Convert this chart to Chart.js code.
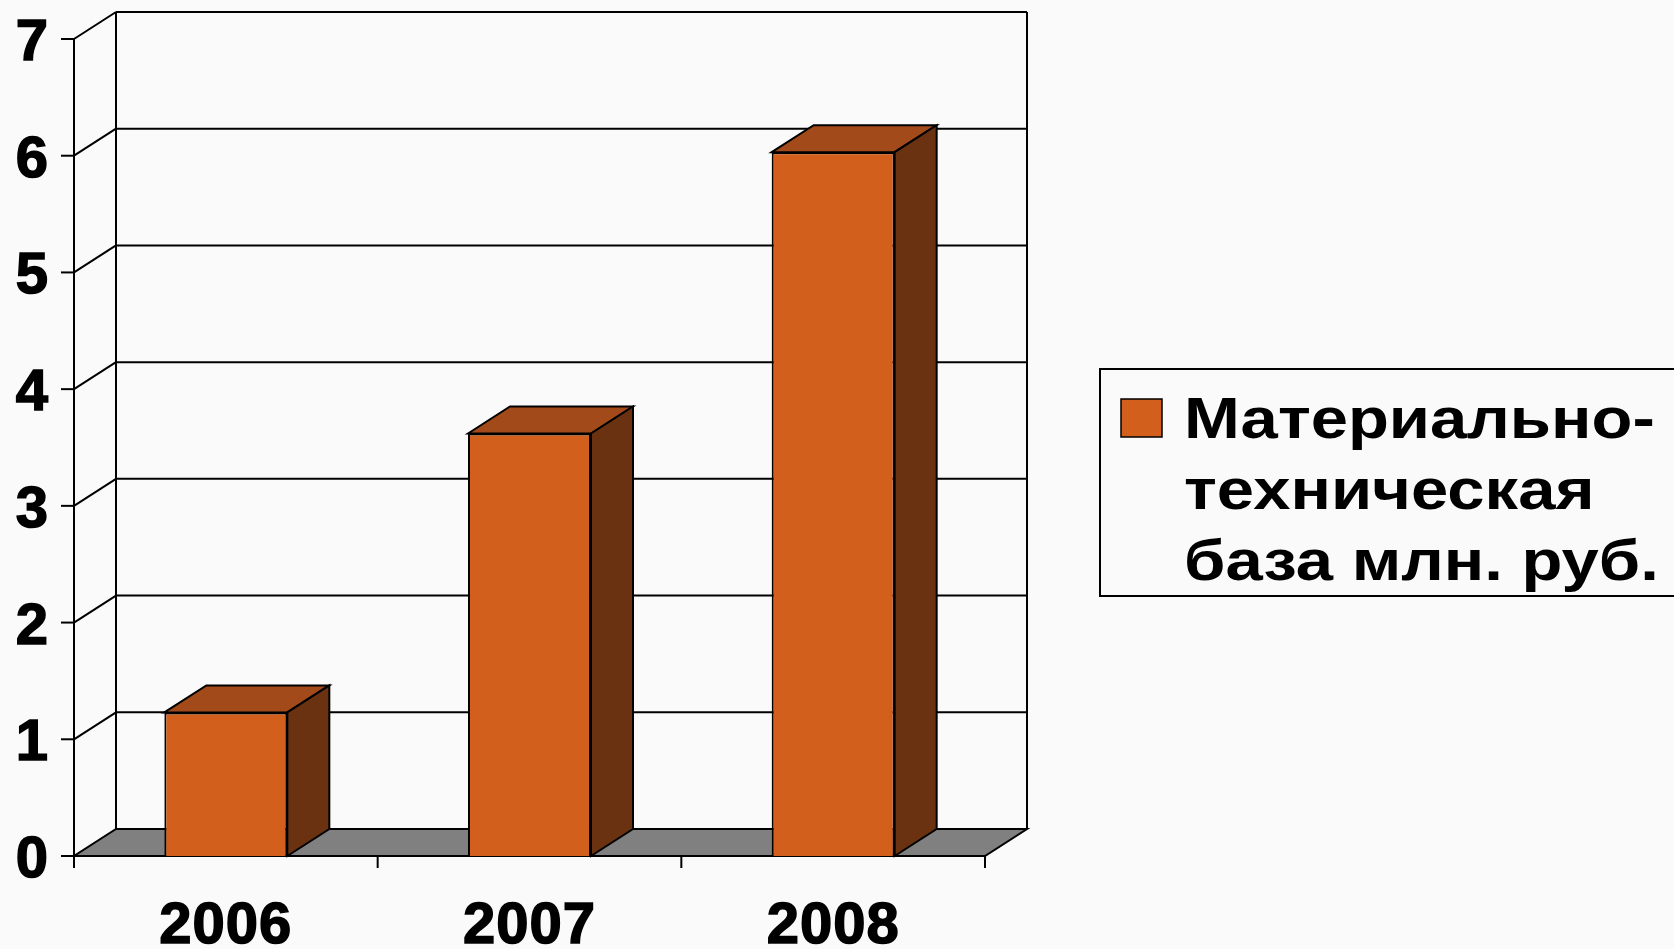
<!DOCTYPE html>
<html>
<head>
<meta charset="utf-8">
<script src="https://cdn.jsdelivr.net/npm/chart.js@4/dist/chart.umd.min.js"></script>
<style>
html,body{margin:0;padding:0;background:#fafafa;}
#wrap{width:1674px;height:949px;position:relative;overflow:hidden;}
canvas{display:block;}
</style>
</head>
<body>
<div id="wrap"><canvas id="c" width="1674" height="949"></canvas></div>
<script>
// ---- data ----
const categories = ['2006', '2007', '2008'];
const seriesLabel = 'Материально-техническая база млн. руб.';
const legendLines = ['Материально-', 'техническая', 'база млн. руб.'];
const seriesValues = [1.23, 3.62, 6.03];
const yTicks = [0, 1, 2, 3, 4, 5, 6, 7];

// ---- style ----
const FRONT = '#D2601C', TOPC = '#A24A1A', SIDE = '#6B3212', FLOOR = '#808080', BG = '#fafafa';
const DX = 42, DY = 27;
const FONT = '"Liberation Sans", Arial, sans-serif';

function seg(ctx, x1, y1, x2, y2) { ctx.beginPath(); ctx.moveTo(x1, y1); ctx.lineTo(x2, y2); ctx.stroke(); }
function poly(ctx, pts, fill) {
  ctx.beginPath(); ctx.moveTo(pts[0][0], pts[0][1]);
  for (let i = 1; i < pts.length; i++) ctx.lineTo(pts[i][0], pts[i][1]);
  ctx.closePath(); if (fill) { ctx.fillStyle = fill; ctx.fill(); } ctx.stroke();
}
function noPad(s) { s.paddingTop = 0; s.paddingBottom = 0; s.paddingLeft = 0; s.paddingRight = 0; }

const threeD = {
  id: 'threeD',
  beforeDraw(chart) {
    const ctx = chart.ctx;
    ctx.save(); ctx.fillStyle = BG; ctx.fillRect(0, 0, chart.width, chart.height); ctx.restore();
    ctx.letterSpacing = '1px';
    // nudge value-axis labels slightly down, as in the original
    chart.scales.y.getLabelItems().forEach(it => {
      if (!it._nudged) { it.options.translation[1] += 5; it._nudged = true; }
    });
  },
  beforeDatasetsDraw(chart) {
    const { ctx, scales: { x, y } } = chart;
    ctx.letterSpacing = '0px';
    const n = categories.length;
    const L = x.getPixelForValue(-0.5), R = x.getPixelForValue(n - 0.5);
    const B = y.getPixelForValue(yTicks[0]), T = y.getPixelForValue(yTicks[yTicks.length - 1]);
    ctx.save();
    ctx.strokeStyle = '#000'; ctx.lineWidth = 2; ctx.lineJoin = 'miter';
    poly(ctx, [[L, B], [R, B], [R + DX, B - DY], [L + DX, B - DY]], FLOOR);
    seg(ctx, L + DX, T - DY, L + DX, B - DY);
    seg(ctx, R + DX, T - DY, R + DX, B - DY);
    yTicks.forEach(v => {
      if (v === yTicks[0]) return;
      const py = y.getPixelForValue(v);
      seg(ctx, L, py, L + DX, py - DY);
      seg(ctx, L + DX, py - DY, R + DX, py - DY);
    });
    seg(ctx, L, T, L, B + 12);
    yTicks.forEach(v => { const py = y.getPixelForValue(v); seg(ctx, L - 13, py, L, py); });
    for (let i = 0; i <= n; i++) { const px = x.getPixelForValue(i - 0.5); seg(ctx, px, B, px, B + 12); }
    ctx.restore();
  },
  afterDatasetsDraw(chart) {
    const ctx = chart.ctx;
    const meta = chart.getDatasetMeta(0);
    ctx.save(); ctx.strokeStyle = '#000'; ctx.lineWidth = 2; ctx.lineJoin = 'miter';
    meta.data.forEach(bar => {
      const p = bar.getProps(['x', 'y', 'base', 'width'], true);
      const l = p.x - p.width / 2, r = p.x + p.width / 2;
      poly(ctx, [[l, p.y], [l + DX, p.y - DY], [r + DX, p.y - DY], [r, p.y]], TOPC);
      poly(ctx, [[r, p.y], [r + DX, p.y - DY], [r + DX, p.base - DY], [r, p.base]], SIDE);
    });
    ctx.restore();
  },
  afterDraw(chart) {
    const ctx = chart.ctx;
    ctx.save();
    ctx.letterSpacing = '0px';
    ctx.strokeStyle = '#000'; ctx.lineWidth = 2;
    ctx.strokeRect(1100, 369, 700, 227);
    ctx.fillStyle = FRONT; ctx.fillRect(1121, 399, 41, 38);
    ctx.lineWidth = 1.5; ctx.strokeRect(1121, 399, 41, 38);
    ctx.fillStyle = '#000'; ctx.font = 'bold 58px ' + FONT; ctx.textBaseline = 'alphabetic'; ctx.textAlign = 'left';
    legendLines.forEach((t, i) => {
      ctx.save(); ctx.translate(1184, 438 + i * 71); ctx.scale(1.155, 1);
      ctx.fillText(t, 0, 0); ctx.restore();
    });
    ctx.restore();
  }
};

const tickFont = { family: FONT, size: 58, weight: 'bold' };

new Chart(document.getElementById('c'), {
  type: 'bar',
  data: {
    labels: categories,
    datasets: [{
      label: seriesLabel,
      data: seriesValues,
      backgroundColor: FRONT,
      borderColor: '#000',
      borderWidth: 2,
      categoryPercentage: 1,
      barPercentage: 0.405
    }]
  },
  options: {
    responsive: false,
    animation: false,
    devicePixelRatio: 1,
    layout: { padding: { top: 39, right: 689, left: 0, bottom: 0 } },
    plugins: { legend: { display: false }, tooltip: { enabled: false } },
    scales: {
      x: {
        grid: { display: false, drawTicks: false },
        border: { display: false },
        ticks: { color: '#000', font: tickFont, textStrokeColor: '#000', textStrokeWidth: 1.5, padding: 36, maxRotation: 0, autoSkip: false },
        afterFit(s) { s.height = 93; noPad(s); }
      },
      y: {
        min: 0, max: 7,
        grid: { display: false, drawTicks: false },
        border: { display: false },
        ticks: { stepSize: 1, color: '#000', font: tickFont, textStrokeColor: '#000', textStrokeWidth: 1.5, padding: 25 },
        afterFit(s) { s.width = 74; noPad(s); }
      }
    }
  },
  plugins: [threeD]
});
</script>
</body>
</html>
